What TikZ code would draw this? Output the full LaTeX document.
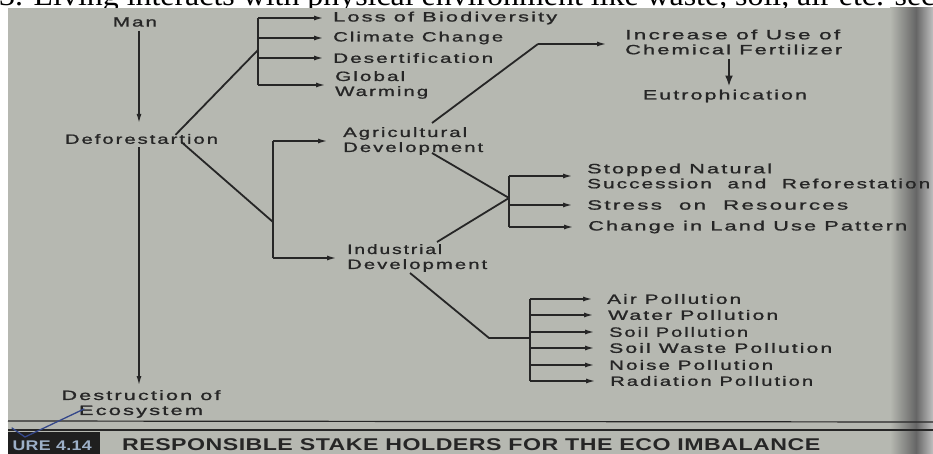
\documentclass[tikz,border=0pt]{standalone}
\usepackage{fontspec}
\usepackage{graphicx}
\setmainfont{Liberation Sans}
\newfontfamily\labfont[LetterSpace=10,FakeBold=1]{Liberation Sans}
\newfontfamily\capfont[LetterSpace=2]{Liberation Sans}
\newfontfamily\serifline{Liberation Serif}
\usetikzlibrary{arrows.meta,calc}

% set a line of text to a given width, keeping its height
\newcommand\fw[2]{\resizebox{#1pt}{\height}{#2}}

\definecolor{paper}{HTML}{B6B8B1}
\definecolor{ink}{HTML}{262626}
\definecolor{pen}{HTML}{34478A}
\definecolor{plate}{HTML}{1F1F1F}
\definecolor{platetext}{HTML}{9DB0C8}

\begin{document}
\begin{tikzpicture}[x=1pt,y=-1pt,
  lab/.style={font=\labfont\fontsize{13.5}{15}\selectfont, text=ink, inner sep=0pt, align=left},
  wire/.style={draw=ink, line width=1.8pt},
  arr/.style={wire, -{Latex[length=10pt,width=5pt]}},
]
\useasboundingbox (0,0) rectangle (933,454);
\clip (0,0) rectangle (933,454);

% page and running text above the figure
\fill[white] (0,0) rectangle (933,454);
\node[anchor=base west, font=\serifline\fontsize{30}{30}\selectfont, inner sep=0] (topline) at (-1,6)
  {\fw{936}{3. Living interacts with physical environment like waste, soil, air etc. sec}};
\fill[paper] (8,8) rectangle (933,454);
\shade[left color=paper, right color=black!60] (890,8) rectangle (916,454);
\shade[left color=black!60, right color=gray!50] (916,8) rectangle (933,454);

% main chain
\node[lab] (man) at (135,22) {\fw{44}{Man}};
\node[lab] (defo) at (141.5,139) {\fw{153}{Deforestartion}};
\node[lab, align=center] (destr) at (141,404) {\fw{159}{Destruction of}\\\fw{124}{Ecosystem}};

% effects of deforestation
\node[lab, anchor=west] (loss) at (333,18) {\fw{224}{Loss of Biodiversity}};
\node[lab, anchor=west] (climate) at (333,38) {\fw{170}{Climate Change}};
\node[lab, anchor=west] (desert) at (333,58) {\fw{160}{Desertification}};
\node[lab, anchor=west] (global) at (335,85) {\fw{70}{Global}\\\fw{93}{Warming}};

% development branches
\node[lab, anchor=west] (agri) at (343,141) {\fw{124}{Agricultural}\\\fw{140}{Development}};
\node[lab, anchor=west] (indu) at (347,258) {\fw{95}{Industrial}\\\fw{140}{Development}};

% agriculture
\node[lab, anchor=west] (incr) at (625,42) {\fw{215}{Increase of Use of}\\\fw{217}{Chemical Fertilizer}};
\node[lab] (eutro) at (725,96) {\fw{164}{Eutrophication}};

% common consequences
\node[lab, anchor=west] (stop) at (587,176) {\fw{185}{Stopped Natural}\\\fw{343}{Succession \ and \ Reforestation}};
\node[lab, anchor=west] (stress) at (587,205) {\fw{261}{Stress \ on \ Resources}};
\node[lab, anchor=west] (change) at (588,227) {\fw{319}{Change in Land Use Pattern}};

% pollution types
\node[lab, anchor=west] (air) at (607,299) {\fw{134}{Air Pollution}};
\node[lab, anchor=west] (water) at (608,315) {\fw{170}{Water Pollution}};
\node[lab, anchor=west] (soil) at (609,332) {\fw{139}{Soil Pollution}};
\node[lab, anchor=west] (waste) at (609,348) {\fw{223}{Soil Waste Pollution}};
\node[lab, anchor=west] (noise) at (609,365) {\fw{164}{Noise Pollution}};
\node[lab, anchor=west] (rad) at (610,381) {\fw{203}{Radiation Pollution}};

% bracket spines and bends
\coordinate (s1) at (258,50);
\coordinate (s2) at (273,222);
\coordinate (s3) at (509,198);
\coordinate (s4) at (530,338);
\coordinate (k1) at (538,44);
\coordinate (k4) at (489,338);

% Man -> Deforestartion -> Destruction
\draw[arr, shorten <=4pt, shorten >=10pt] (man.south -| 139,0) -- (defo.north -| 139,0);
\draw[arr, shorten <=3pt, shorten >=4pt] (defo.south -| 139,0) -- (destr.north -| 139,0);

% deforestation effects
\draw[wire] ([xshift=34pt,yshift=-1pt]defo.north) -- (s1);
\draw[wire] (s1 |- loss) -- (s1 |- global);
\foreach \t in {loss,climate,desert,global}
  \draw[arr, shorten >=9pt] (s1 |- \t) -- (\t.west);

% development bracket
\draw[wire] ([xshift=40pt,yshift=2pt]defo.south) -- (s2);
\draw[wire] (s2 |- agri) -- (s2 |- indu);
\draw[arr, shorten >=15pt] (s2 |- agri) -- (agri.west);
\draw[arr, shorten >=10pt] (s2 |- indu) -- (indu.west);

% fertilizer chain
\draw[wire] (432,123) -- (k1);
\draw[arr, shorten >=18pt] (k1) -- (incr.west |- k1);
\draw[wire, line width=2.4pt, -{Latex[length=11pt,width=8pt]}, shorten >=3pt, shorten <=4pt]
  (729,0 |- incr.south) -- (729,0 |- eutro.north);

% shared consequences
\draw[wire] (432,153) -- (s3);
\draw[wire] (437,242) -- (s3);
\draw[wire] (s3 |- stop) -- (s3 |- change);
\foreach \t in {stop,stress,change}
  \draw[arr, shorten >=14pt] (s3 |- \t) -- (\t.west);

% pollution
\draw[wire] (410,273) -- (k4) -- (s4);
\draw[wire] (s4 |- air) -- (s4 |- rad);
\foreach \t in {air,water,soil,waste,noise,rad}
  \draw[arr, shorten >=14pt] (s4 |- \t) -- (\t.west);

% caption strip
\draw[ink, line width=1.2pt] (8,421) -- (933,422);
\draw[ink, line width=1.4pt] (8,430) -- (933,430);
\fill[plate] (8,432) rectangle (100,454);
\begin{scope}
  \clip (12,432) rectangle (100,454);
  \node[anchor=base east, font=\capfont\bfseries\fontsize{14}{14}\selectfont, text=platetext, inner sep=0] (fig) at (92,450) {\fw{110}{FIGURE 4.14}};
\end{scope}
\node[anchor=base west, font=\capfont\bfseries\fontsize{17}{17}\selectfont, text=ink, inner sep=0] (cap) at (122,450)
  {\fw{698}{RESPONSIBLE STAKE HOLDERS FOR THE ECO IMBALANCE}};

% pen tick
\draw[pen, line width=1.3pt, line cap=round, line join=round] (12,428) -- (25,437) -- (84,409);
\end{tikzpicture}
\end{document}
